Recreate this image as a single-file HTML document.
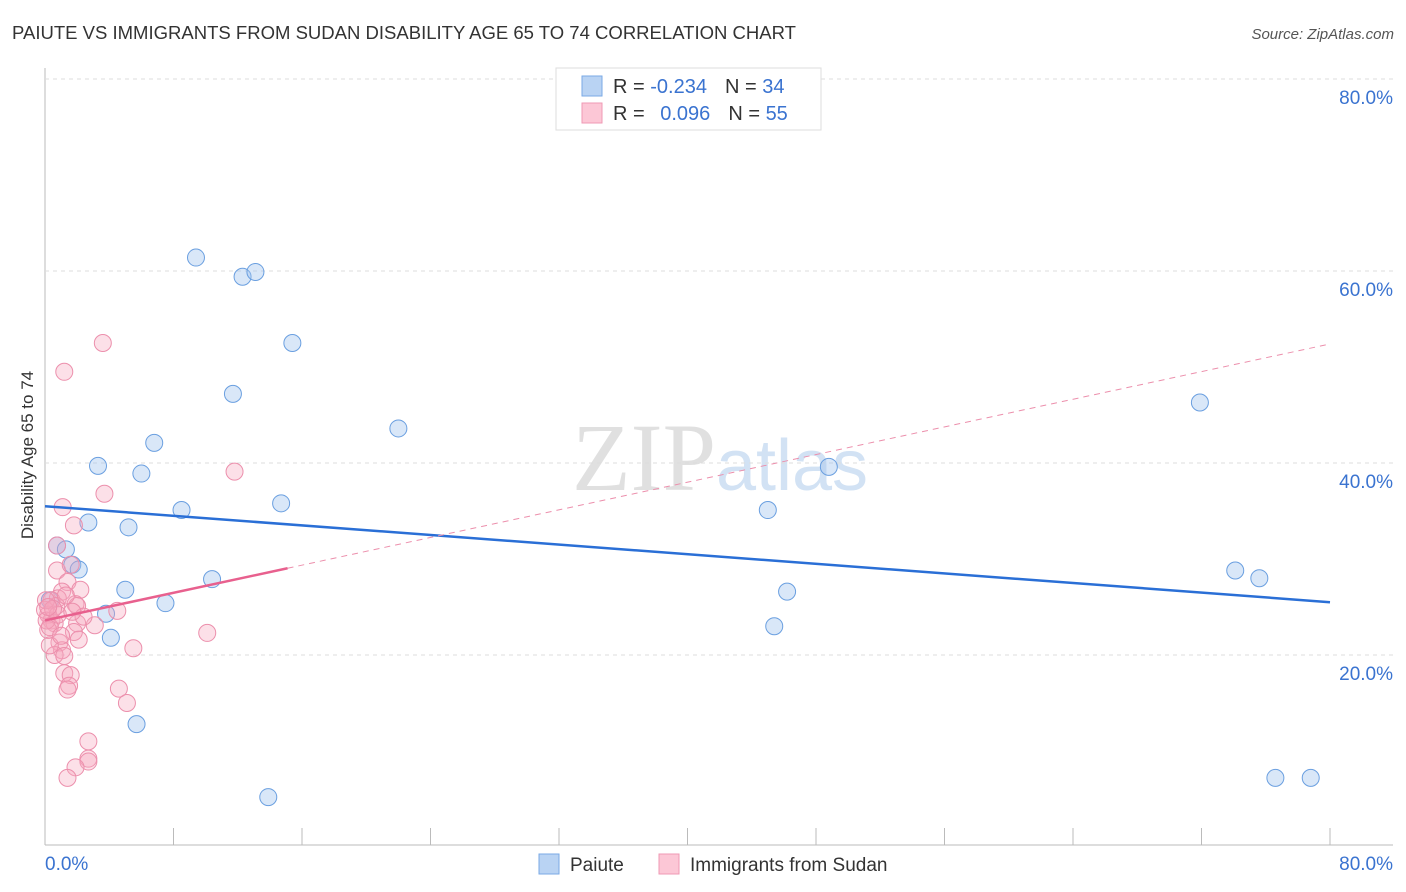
<!DOCTYPE html>
<html><head><meta charset="utf-8"><style>
body{margin:0;background:#fff;font-family:"Liberation Sans",sans-serif}
svg{display:block}
</style></head><body>
<svg id="chart" width="1406" height="892" viewBox="0 0 1406 892">
<text x="12" y="39" font-size="18" fill="#333" textLength="784" lengthAdjust="spacingAndGlyphs">PAIUTE VS IMMIGRANTS FROM SUDAN DISABILITY AGE 65 TO 74 CORRELATION CHART</text>
<text x="1394" y="39" font-size="15" fill="#555" font-style="italic" text-anchor="end">Source: ZipAtlas.com</text>
<text x="720" y="490" font-size="96" text-anchor="middle" fill="#ddd" font-family="Liberation Serif"><tspan fill="#e0e0e0">ZIP</tspan><tspan fill="#d2e2f4" font-family="Liberation Sans" font-size="72">atlas</tspan></text>
<text transform="translate(33,455) rotate(-90)" font-size="17" fill="#333" text-anchor="middle">Disability Age 65 to 74</text>
<g id="grid"></g><g id="marks"></g>
<g>
<rect x="556" y="68" width="265" height="62" fill="#fff" stroke="#ddd"/>
<rect x="582" y="76" width="20" height="20" fill="#b9d3f3" stroke="#7aaae6"/>
<rect x="582" y="103" width="20" height="20" fill="#fcc7d6" stroke="#ef9ab4"/>
<text x="613" y="93" font-size="20" fill="#333">R = <tspan fill="#3a73d0">-0.234</tspan><tspan dx="18">N = </tspan><tspan fill="#3a73d0">34</tspan></text>
<text x="613" y="120" font-size="20" fill="#333">R = <tspan fill="#3a73d0" dx="10">0.096</tspan><tspan dx="18">N = </tspan><tspan fill="#3a73d0">55</tspan></text>
</g>
<g>
<rect x="539" y="854" width="20" height="20" fill="#b9d3f3" stroke="#7aaae6"/>
<text x="570" y="871" font-size="19" fill="#333">Paiute</text>
<rect x="659" y="854" width="20" height="20" fill="#fcc7d6" stroke="#ef9ab4"/>
<text x="690" y="871" font-size="19" fill="#333">Immigrants from Sudan</text>
</g>
</svg>
<script>
const yTicks=[20,40,60,80];
const yTickLabels=["20.0%","40.0%","60.0%","80.0%"];
const xTicks=[0,8,16,24,32,40,48,56,64,72,80];
const xTickLabels=["0.0%","80.0%"];
const paiuteX=[9.4,12.3,13.1,15.4,11.7,22.0,6.8,3.3,6.0,8.5,14.7,2.7,5.2,0.75,1.3,1.7,2.1,5.0,10.4,7.5,3.8,4.1,5.7,13.9,71.9,48.8,45.0,46.2,45.4,74.1,75.6,76.6,78.8,0.3];
const paiuteY=[61.4,59.4,59.9,52.5,47.2,43.6,42.1,39.7,38.9,35.1,35.8,33.8,33.3,31.4,31.0,29.4,28.9,26.8,27.9,25.4,24.3,21.8,12.8,5.2,46.3,39.6,35.1,26.6,23.0,28.8,28.0,7.2,7.2,25.7];
const sudanX=[3.6,1.2,11.8,3.7,1.1,1.8,0.75,0.75,1.6,1.4,2.2,1.06,0.8,0.4,0.7,1.9,2.0,4.5,0.2,0.4,0.6,2.0,3.1,0.2,1.8,2.1,0.9,1.06,10.1,5.5,0.6,1.2,1.2,1.6,1.5,1.4,4.6,5.1,2.7,2.7,2.7,1.9,1.4,0.0,0.1,0.3,0.06,0.8,1.3,0.5,2.4,0.3,1.0,0.2,1.7];
const sudanY=[52.5,49.5,39.1,36.8,35.4,33.5,31.4,28.8,29.4,27.6,26.8,26.6,25.9,25.7,25.1,25.3,25.1,24.6,24.2,23.6,23.3,23.3,23.1,22.6,22.4,21.6,21.3,20.5,22.3,20.7,20.0,19.9,18.1,17.9,16.8,16.4,16.5,15.0,11.0,9.2,8.9,8.3,7.2,24.7,23.6,22.9,25.7,24.2,26.2,24.8,24.0,21.0,22.0,25.0,24.5];
const blueTrend=[35.5,25.5];
const pinkTrend=[23.6,0.36];
const X0=45,X1=1330,Y0=847,Y1=79;
const sx=v=>X0+(X1-X0)*v/80, sy=v=>Y0-(Y0-Y1)*v/80;
const NS="http://www.w3.org/2000/svg";
const grid=document.getElementById('grid'),marks=document.getElementById('marks');
function mk(tag,attrs,parent){const e=document.createElementNS(NS,tag);for(const k in attrs)e.setAttribute(k,attrs[k]);parent.appendChild(e);return e;}
let e=mk('line',{x1:45,y1:68,x2:45,y2:845,stroke:'#bbb'},grid);


e=mk('line',{x1:45,y1:845,x2:1393,y2:845,stroke:'#bbb'},grid);


yTicks.forEach((t,i)=>{
 let g=mk('line',{x1:45,y1:sy(t),x2:1393,y2:sy(t),stroke:'#ddd','stroke-dasharray':'4,4'},grid);
 
 
 let tx=mk('text',{x:1393,y:sy(t)+25,'font-size':19,fill:'#3a73d0','text-anchor':'end'},grid);
 tx.textContent=yTickLabels[i];
 
 
});
xTicks.forEach(t=>{
 let g=mk('line',{x1:sx(t),y1:828,x2:sx(t),y2:845,stroke:'#bbb'},grid);
 
 
});
let xl=mk('text',{x:45,y:870,'font-size':19,fill:'#3a73d0'},grid);xl.textContent=xTickLabels[0];


xl=mk('text',{x:1393,y:870,'font-size':19,fill:'#3a73d0','text-anchor':'end'},grid);xl.textContent=xTickLabels[1];


paiuteX.forEach((x,i)=>{
 let c=mk('circle',{cx:sx(x),cy:sy(paiuteY[i]),r:8.5,fill:'rgba(160,195,238,0.4)',stroke:'#6a9fe0','stroke-width':1},marks);
 
 
});
sudanX.forEach((x,i)=>{
 let c=mk('circle',{cx:sx(x),cy:sy(sudanY[i]),r:8.5,fill:'rgba(245,165,190,0.35)',stroke:'#ec8fac','stroke-width':1},marks);
 
 
});
let l=mk('line',{x1:sx(0),y1:sy(blueTrend[0]),x2:sx(80),y2:sy(blueTrend[1]),stroke:'#2a6fd6','stroke-width':2.5},marks);


const pmax=15.1;
l=mk('line',{x1:sx(pmax),y1:sy(pinkTrend[0]+pinkTrend[1]*pmax),x2:sx(80),y2:sy(pinkTrend[0]+pinkTrend[1]*80),stroke:'#ec8fac','stroke-width':1,'stroke-dasharray':'6,5'},marks);


l=mk('line',{x1:sx(0),y1:sy(pinkTrend[0]),x2:sx(pmax),y2:sy(pinkTrend[0]+pinkTrend[1]*pmax),stroke:'#e8608e','stroke-width':2.5},marks);


</script>
</body></html>
